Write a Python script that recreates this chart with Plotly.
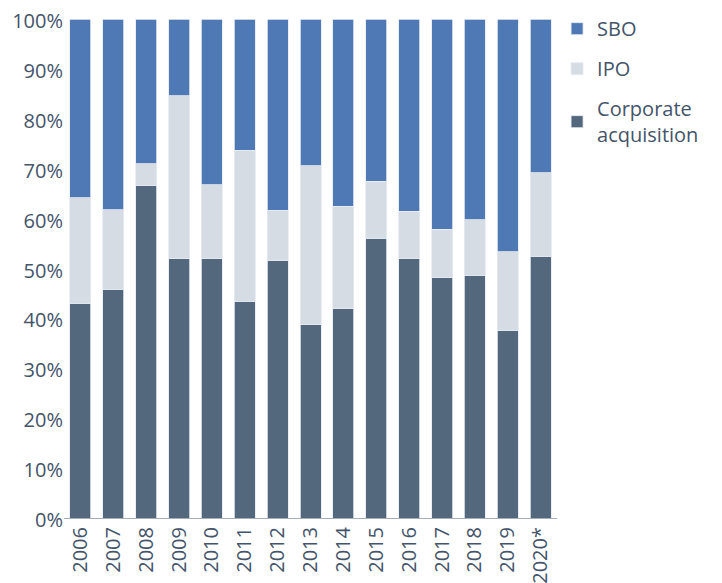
import plotly.graph_objects as go

years = ["2006", "2007", "2008", "2009", "2010", "2011", "2012", "2013",
         "2014", "2015", "2016", "2017", "2018", "2019", "2020*"]

# shares in %
corporate = [43.0, 45.8, 66.6, 52.0, 52.0, 43.4, 51.7, 38.7, 42.0, 56.1, 52.0, 48.1, 48.6, 37.6, 52.5]
ipo = [21.2, 16.0, 4.4, 32.6, 14.8, 30.3, 10.0, 31.9, 20.5, 11.4, 9.5, 9.8, 11.2, 15.8, 16.7]
sbo = [round(100 - c - i, 1) for c, i in zip(corporate, ipo)]

y_ticks = list(range(0, 101, 10))
y_labels = [f"{v}%" for v in y_ticks]

TEXT = "#44546a"
FONT = "Open Sans, sans-serif"

fig = go.Figure()
# legendrank: SBO on top of the legend, as in the source
for name, vals, col, rank in [
    ("Corporate<br>acquisition", corporate, "#53687c", 3),
    ("IPO", ipo, "#d6dce4", 2),
    ("SBO", sbo, "#4f79b5", 1),
]:
    fig.add_trace(go.Bar(
        x=years, y=vals, name=name, legendgroup=name, legendrank=rank,
        marker=dict(color=col, line=dict(color="#e6ebf2", width=0.8)),
    ))

# page body has an 8px margin, so the figure is a bit smaller than the window
fig.update_layout(
    barmode="stack",
    bargap=0.36,
    width=714, height=575,
    margin=dict(l=56, r=147, t=11, b=65),
    plot_bgcolor="white", paper_bgcolor="white",
    font=dict(family=FONT, color=TEXT, size=20),
    showlegend=True,
    legend=dict(
        traceorder="grouped",
        xref="container", yref="container",
        x=0.769, xanchor="left", y=0.998, yanchor="top",
        font=dict(size=20, color=TEXT),
        tracegroupgap=11,
        bgcolor="rgba(0,0,0,0)",
    ),
    xaxis=dict(
        tickangle=-90, showline=True, linecolor="#a6aeb8", linewidth=1,
        ticks="", showgrid=False, automargin=False,
        ticklabeloverflow="allow",
    ),
    yaxis=dict(
        range=[0, 100], tickmode="array", tickvals=y_ticks, ticktext=y_labels,
        showgrid=False, zeroline=False, ticks="", automargin=False,
        ticklabeloverflow="allow", ticklabelshift=2,
    ),
)

fig.write_html("out.html")
